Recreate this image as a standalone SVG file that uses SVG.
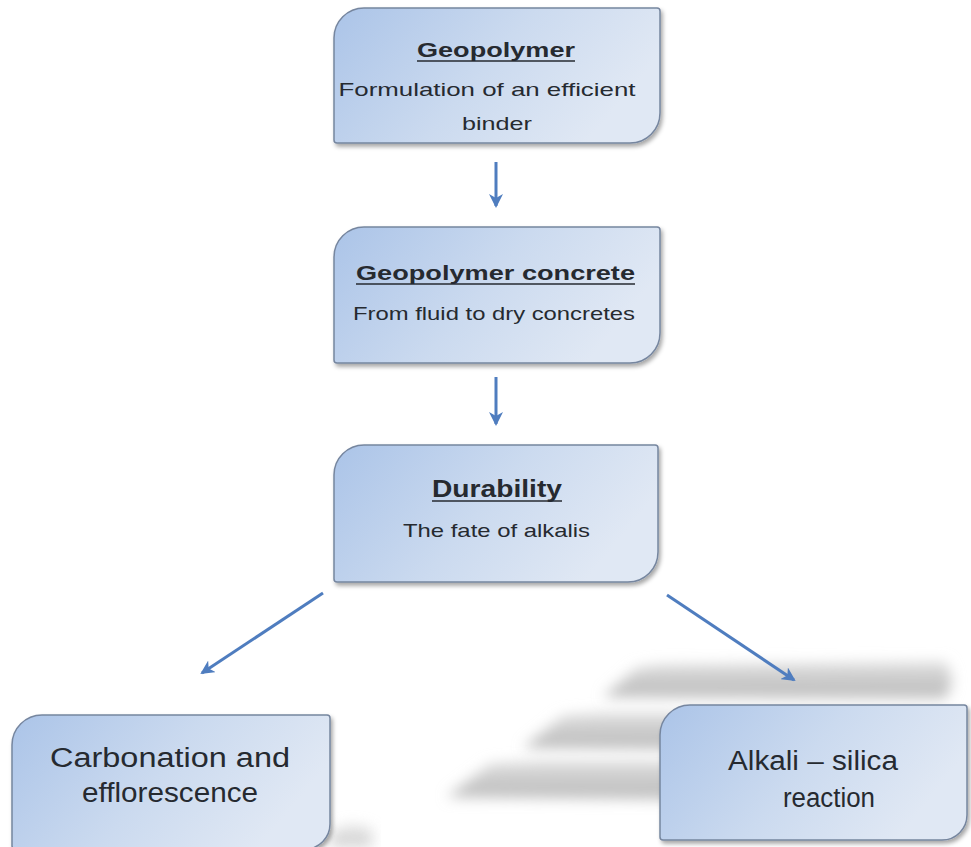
<svg xmlns="http://www.w3.org/2000/svg" width="971" height="847" viewBox="0 0 971 847">
<defs>
<linearGradient id="nodeFill" x1="0" y1="0" x2="1" y2="0.35">
<stop offset="0" stop-color="#abc4e8"/>
<stop offset="0.55" stop-color="#cbdaef"/>
<stop offset="1" stop-color="#e0e8f4"/>
</linearGradient>
<linearGradient id="bandFill" x1="0" y1="0" x2="0" y2="1">
<stop offset="0" stop-color="#dedede"/>
<stop offset="1" stop-color="#b9b9b9"/>
</linearGradient>
<filter id="shadow" x="-10%" y="-10%" width="125%" height="130%">
<feDropShadow dx="2" dy="3" stdDeviation="2" flood-color="#000" flood-opacity="0.35"/>
</filter>
<filter id="blur" x="-20%" y="-60%" width="140%" height="220%">
<feGaussianBlur stdDeviation="7"/>
</filter>
<marker id="head" viewBox="0 0 14 14" refX="12" refY="7" markerWidth="14" markerHeight="14" markerUnits="userSpaceOnUse" orient="auto">
<path d="M0,0 L14,7 L0,14 L4,7 Z" fill="#4f7dbf"/>
</marker>
<style>
.node path{fill:url(#nodeFill);stroke:#76869f;stroke-width:1.5;filter:url(#shadow)}
.t{font-family:"Liberation Sans",Arial,sans-serif;fill:#262a30;text-anchor:middle}
.h{font-weight:bold;font-size:21px}
.s{font-size:19px}
.b{font-size:27px}
.ul{stroke:#262a30;stroke-width:1.6}
.conn line{stroke:#4f7dbf;stroke-width:3;marker-end:url(#head)}
.band{fill:url(#bandFill);filter:url(#blur)}
</style>
</defs>
<rect width="971" height="847" fill="#ffffff"/>

<g id="shadow-bands">
<path class="band" d="M603,697 L637,668 L660,665 L945,662 Q958,680 945,698 Z"/>
<path class="band" d="M523,748 L563,716 L600,713 L680,713 L680,749 Z"/>
<path class="band" d="M447,797 L490,764 L540,761 L680,761 L680,799 Z"/>
<path class="band" d="M330,832 L350,824 L372,828 L372,847 L330,847 Z" opacity="0.7"/>
</g>

<g id="connectors" class="conn">
<line x1="496" y1="162" x2="496" y2="206"/>
<line x1="496" y1="377" x2="496" y2="424"/>
<line x1="323" y1="593" x2="202" y2="673"/>
<line x1="667" y1="595" x2="794" y2="680"/>
</g>

<g id="node-geopolymer" class="node">
<path d="M334,38 A30,30 0 0 1 364,8 L657,8 A3,3 0 0 1 660,11 L660,113 A30,30 0 0 1 630,143 L337,143 A3,3 0 0 1 334,140 Z"/>
<text class="t h" x="496" y="57" textLength="158" lengthAdjust="spacingAndGlyphs">Geopolymer</text>
<line class="ul" x1="417" y1="61" x2="575" y2="61"/>
<text class="t s" x="487" y="96" textLength="297" lengthAdjust="spacingAndGlyphs">Formulation of an efficient</text>
<text class="t s" x="497" y="130" textLength="70" lengthAdjust="spacingAndGlyphs">binder</text>
</g>

<g id="node-concrete" class="node">
<path d="M334,257 A30,30 0 0 1 364,227 L657,227 A3,3 0 0 1 660,230 L660,333 A30,30 0 0 1 630,363 L337,363 A3,3 0 0 1 334,360 Z"/>
<text class="t h" x="495.5" y="280" textLength="279" lengthAdjust="spacingAndGlyphs">Geopolymer concrete</text>
<line class="ul" x1="356" y1="284" x2="635" y2="284"/>
<text class="t s" x="494" y="320" textLength="282" lengthAdjust="spacingAndGlyphs">From fluid to dry concretes</text>
</g>

<g id="node-durability" class="node">
<path d="M334,475 A30,30 0 0 1 364,445 L655,445 A3,3 0 0 1 658,448 L658,552 A30,30 0 0 1 628,582 L337,582 A3,3 0 0 1 334,579 Z"/>
<text class="t h" x="497" y="497" textLength="130" lengthAdjust="spacingAndGlyphs" style="font-size:23px">Durability</text>
<line class="ul" x1="432" y1="501" x2="562" y2="501"/>
<text class="t s" x="496.5" y="537" textLength="187" lengthAdjust="spacingAndGlyphs">The fate of alkalis</text>
</g>

<g id="node-carbonation" class="node">
<path d="M12,745 A30,30 0 0 1 42,715 L327,715 A3,3 0 0 1 330,718 L330,824 A25,25 0 0 1 305,849 L15,849 A3,3 0 0 1 12,846 Z"/>
<text class="t b" x="170" y="767" textLength="240" lengthAdjust="spacingAndGlyphs">Carbonation and</text>
<text class="t b" x="170" y="802" textLength="176" lengthAdjust="spacingAndGlyphs">efflorescence</text>
</g>

<g id="node-asr" class="node">
<path d="M660,735 A30,30 0 0 1 690,705 L964,705 A3,3 0 0 1 967,708 L967,815 A25,25 0 0 1 942,840 L663,840 A3,3 0 0 1 660,837 Z"/>
<text class="t b" x="813" y="770" textLength="170" lengthAdjust="spacingAndGlyphs">Alkali – silica</text>
<text class="t b" x="829" y="807" textLength="92" lengthAdjust="spacingAndGlyphs">reaction</text>
</g>
</svg>
